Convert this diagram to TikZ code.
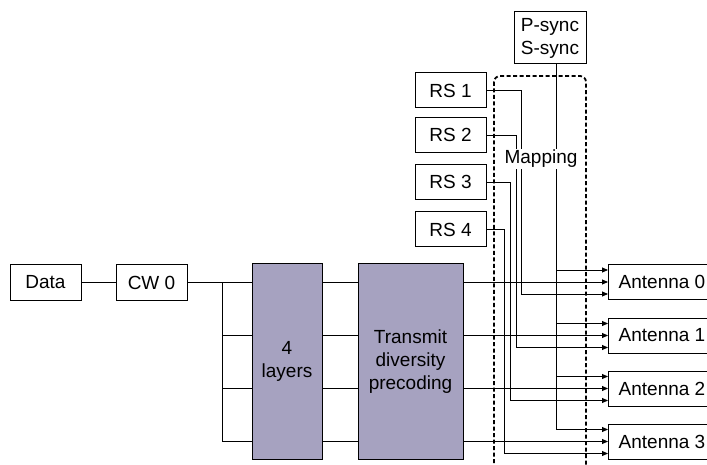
\documentclass[tikz,border=0pt]{standalone}
\usepackage{fontspec}
\setmainfont{Liberation Sans}
\usetikzlibrary{arrows.meta}
\definecolor{layerfill}{RGB}{166,162,192}

\begin{document}
\begin{tikzpicture}[x=1pt,y=-1pt,>={Triangle[length=6pt,width=5pt]},
    box/.style={draw,line width=1pt,inner sep=0pt,minimum height=35pt,
      font=\fontsize{19}{23}\selectfont},
    block/.style={box,fill=layerfill,align=center},
    wire/.style={line width=0.9pt}]
    \useasboundingbox (0,0) rectangle (707,465);

    % Data path
    \node[box,minimum width=71pt] (data) at (45.5,282.5) {Data};
    \node[box,minimum width=71pt] (cw) at (151.5,282.5) {CW 0};
    \node[block,minimum width=70pt,minimum height=195pt] (layers) at (287,361.5) {4\\layers};
    \node[block,minimum width=105pt,minimum height=195pt] (precode) at (410.5,361.5) {Transmit\\diversity\\precoding};

    % Reference signals and sync
    \node[box,minimum width=71pt] (rs1) at (450.5,90.5) {RS 1};
    \node[box,minimum width=71pt] (rs2) at (450.5,135) {RS 2};
    \node[box,minimum width=71pt] (rs3) at (450.5,182) {RS 3};
    \node[box,minimum width=71pt] (rs4) at (450.5,229.5) {RS 4};
    \node[box,minimum width=72pt,minimum height=52pt,align=center] (sync) at (550,38) {P-sync\\S-sync};

    % Antennas
    \foreach \i/\y in {0/282,1/335.5,2/388.5,3/441.5}
        \node[box,minimum width=107pt,anchor=west] (ant\i) at (608,\y) {Antenna \i};

    % Mapping region
    \draw[dash pattern=on 4pt off 2.5pt,line width=1.8pt,rounded corners=6pt]
        (494,76) rectangle (586,490);

    % Layer mapping and precoding
    \draw[wire] (data) -- (cw);
    \coordinate (bus) at (222,282.5);
    \draw[wire] (cw.east) -- (bus) -- (bus |- ant3);
    \foreach \i in {0,...,3} {
        \draw[wire] (bus |- ant\i) -- (layers.west |- ant\i);
        \draw[wire] (layers.east |- ant\i) -- (precode.west |- ant\i);
        \draw[wire,->] (precode.east |- ant\i) -- (ant\i.west);
    }

    % Sync to every antenna
    \coordinate (sbus) at ([xshift=6pt]sync.south);
    \foreach \i in {0,...,3}
        \coordinate (top\i) at ([yshift=12pt]ant\i.west);
    \draw[wire] (sbus) -- (sbus |- top3);
    \foreach \i in {0,...,3}
        \draw[wire,->] (sbus |- top\i) -- (top\i);

    % Reference signals
    \foreach \i/\n/\d in {1/0/35,2/1/30,3/2/24,4/3/18} {
        \coordinate (bot\n) at ([yshift=-12pt]ant\n.west);
        \draw[wire,->] (rs\i.east) -- ++(\d,0) |- (bot\n);
    }

    % Label over the wires
    \node[fill=white,inner sep=1.5pt,font=\fontsize{19}{23}\selectfont] (map) at (541,159) {Mapping};
\end{tikzpicture}
\end{document}
